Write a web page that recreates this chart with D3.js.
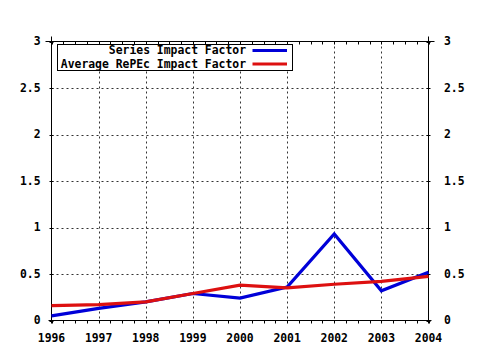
<!DOCTYPE html>
<html>
<head>
<meta charset="utf-8">
<script src="https://cdn.jsdelivr.net/npm/d3@7"></script>
<style>
html,body{margin:0;padding:0;background:#fff;}
svg{display:block;}
text{font-family:"DejaVu Sans Mono",monospace;font-weight:bold;font-size:11.4px;fill:#000;}
</style>
</head>
<body>
<svg id="chart" width="480" height="350"></svg>
<script>
const years = [1996, 1997, 1998, 1999, 2000, 2001, 2002, 2003, 2004];
const seriesImpact = [0.05, 0.13, 0.20, 0.29, 0.24, 0.36, 0.93, 0.32, 0.52];
const averageImpact = [0.16, 0.17, 0.20, 0.29, 0.38, 0.35, 0.39, 0.42, 0.475];
const yTicks = [0, 0.5, 1, 1.5, 2, 2.5, 3];
const yTickLabels = ["0", "0.5", "1", "1.5", "2", "2.5", "3"];
const seriesNames = ["Series Impact Factor", "Average RePEc Impact Factor"];
const seriesColors = ["#0000d8", "#dd1010"];

const svg = d3.select("#chart");
const L = 51.5, R = 428.5, T = 41.5, B = 320.5;
const x = d3.scaleLinear().domain([1996, 2004]).range([L, R]);
const y = d3.scaleLinear().domain([0, 3]).range([B, T]);

// grid
const grid = svg.append("g").attr("stroke", "#333").attr("stroke-dasharray", "2,3").attr("stroke-width", 1);
years.slice(1, -1).forEach(v => {
  grid.append("line").attr("x1", Math.round(x(v)) + 0.5).attr("x2", Math.round(x(v)) + 0.5).attr("y1", T).attr("y2", B);
});
yTicks.slice(1, -1).forEach(v => {
  grid.append("line").attr("x1", L).attr("x2", R).attr("y1", Math.round(y(v)) + 0.5).attr("y2", Math.round(y(v)) + 0.5);
});

// minor tick values (quarters of a year)
const minor = d3.range(0, 33).map(i => 1996 + i / 4);

// frame & ticks
const axes = svg.append("g").attr("stroke", "#000").attr("stroke-width", 1);
axes.append("line").attr("x1", L - 6).attr("x2", R + 6).attr("y1", T).attr("y2", T);
axes.append("line").attr("x1", L - 3).attr("x2", R + 3).attr("y1", B).attr("y2", B);
axes.append("line").attr("x1", L).attr("x2", L).attr("y1", T - 5).attr("y2", B + 3);
axes.append("line").attr("x1", R).attr("x2", R).attr("y1", T - 5).attr("y2", B + 3);
minor.forEach(v => {
  const xp = Math.round(x(v)) + 0.5;
  axes.append("line").attr("x1", xp).attr("x2", xp).attr("y1", T).attr("y2", T + 3);
  axes.append("line").attr("x1", xp).attr("x2", xp).attr("y1", B).attr("y2", B + 3);
});
yTicks.forEach(v => {
  const yp = Math.round(y(v)) + 0.5;
  axes.append("line").attr("x1", L - 2).attr("x2", L + 2).attr("y1", yp).attr("y2", yp);
  axes.append("line").attr("x1", R - 2).attr("x2", R + 2).attr("y1", yp).attr("y2", yp);
});

// axis labels
yTicks.forEach((v, i) => {
  svg.append("text").attr("x", 40.5).attr("y", y(v)).attr("dy", "0.35em").attr("text-anchor", "end").text(yTickLabels[i]);
  svg.append("text").attr("x", 444).attr("y", y(v)).attr("dy", "0.35em").attr("text-anchor", "start").text(yTickLabels[i]);
});
years.forEach(v => {
  svg.append("text").attr("x", x(v)).attr("y", 342).attr("text-anchor", "middle").text(String(v));
});

// lines
const line = d3.line().x((d, i) => x(years[i])).y(d => y(d));
[seriesImpact, averageImpact].forEach((vals, k) => {
  svg.append("path").datum(vals).attr("d", line).attr("fill", "none")
    .attr("stroke", seriesColors[k]).attr("stroke-width", 3.2).attr("stroke-linejoin", "miter");
});

// legend
const lg = svg.append("g");
lg.append("rect").attr("x", 57.5).attr("y", 44.5).attr("width", 235).attr("height", 26)
  .attr("fill", "#fff").attr("stroke", "#000").attr("stroke-width", 1);
seriesNames.forEach((name, k) => {
  const yy = 50.5 + k * 13.5;
  lg.append("text").attr("x", 246).attr("y", yy).attr("dy", "0.35em").attr("text-anchor", "end").text(name);
  lg.append("line").attr("x1", 252.5).attr("x2", 287).attr("y1", yy).attr("y2", yy)
    .attr("stroke", seriesColors[k]).attr("stroke-width", 3.2);
});
</script>
</body>
</html>
